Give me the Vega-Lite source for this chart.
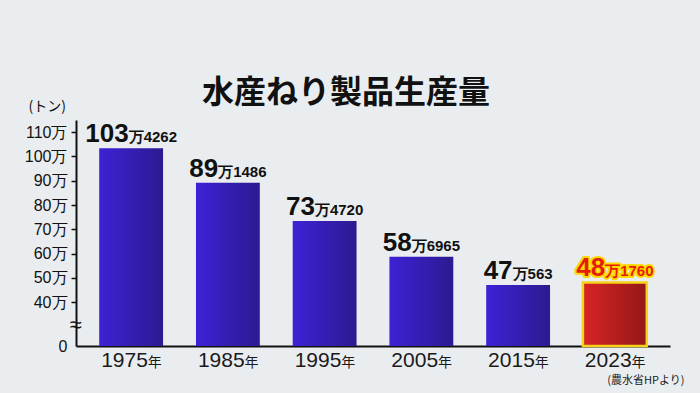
{
  "$schema": "https://vega.github.io/schema/vega-lite/v6.json",
  "width": 594,
  "height": 226,
  "autosize": {"type": "none"},
  "padding": {"left": 76, "top": 120, "right": 30, "bottom": 47},
  "background": "#eaedef",
  "config": {"view": {"stroke": null}, "font": "Liberation Sans", "axisY": {"labelOverlap": false}},
  "title": {"text": "水産ねり製品生産量", "font": "Noto Sans CJK JP", "fontSize": 32, "fontWeight": "bold", "color": "#111111", "anchor": "middle", "dx": -27, "offset": -11},
  "data": {"values": [
    {"year": "1975", "tons": 1034262},
    {"year": "1985", "tons": 891486},
    {"year": "1995", "tons": 734720},
    {"year": "2005", "tons": 586965},
    {"year": "2015", "tons": 470563},
    {"year": "2023", "tons": 481760}
  ]},
  "transform": [
    {"calculate": "floor(datum.tons/10000) + ''", "as": "big"},
    {"calculate": "'万' + (datum.tons % 10000)", "as": "small"}
  ],
  "encoding": {
    "x": {"field": "year", "type": "nominal", "sort": null,
      "scale": {"paddingInner": 0.34, "paddingOuter": 0.24},
      "axis": {"title": null, "labels": false, "ticks": false, "domainColor": "#111111", "domainWidth": 2}},
    "y": {"field": "tons", "type": "quantitative",
      "scale": {"domain": [220000, 1150000], "nice": false, "zero": false},
      "axis": {
        "values": [220000, 310000, 400000, 500000, 600000, 700000, 800000, 900000, 1000000, 1100000],
        "labelExpr": "datum.value == 220000 ? '0' : datum.value == 310000 ? '≈' : (datum.value / 10000) + '万'",
        "labelOverlap": false,
        "labelFontSize": {"condition": {"test": "datum.value == 310000", "value": 22}, "value": 16},
        "labelAlign": {"condition": {"test": "datum.value == 310000", "value": "center"}, "value": "right"},
        "labelPadding": {"condition": {"test": "datum.value == 310000", "value": -4}, "value": 4},
        "labelColor": "#111111",
        "labelFont": "Liberation Sans",
        "tickOpacity": {"condition": {"test": "datum.value == 310000 || datum.value == 220000", "value": 0}, "value": 1},
        "tickSize": 5, "tickColor": "#111111", "tickWidth": 1.5,
        "domainColor": "#111111", "domainWidth": 2,
        "grid": false,
        "title": "(トン)", "titleAngle": 0, "titleAlign": "left", "titleBaseline": "middle",
        "titleX": -48, "titleY": -14, "titleFont": "Noto Sans CJK JP", "titleFontSize": 14, "titleFontWeight": "normal", "titleColor": "#111111"
      }}
  },
  "layer": [
    {
      "transform": [{"filter": "datum.year != '2023'"}],
      "mark": {"type": "bar", "fill": {"gradient": "linear", "x1": 0, "x2": 1, "y1": 0, "y2": 0, "stops": [{"offset": 0, "color": "#3c22d6"}, {"offset": 1, "color": "#2b1a90"}]}},
      "encoding": {"y2": {"datum": 220000}}
    },
    {
      "transform": [{"filter": "datum.year == '2023'"}],
      "mark": {"type": "bar", "stroke": "#f7d21a", "strokeWidth": 2.5, "fill": {"gradient": "linear", "x1": 0, "x2": 1, "y1": 0, "y2": 0, "stops": [{"offset": 0, "color": "#d82424"}, {"offset": 1, "color": "#951818"}]}},
      "encoding": {"y2": {"datum": 220000}}
    },
    {
      "transform": [{"filter": "datum.year == '2023'"}],
      "mark": {"type": "text", "align": "left", "baseline": "alphabetic", "dy": -6, "font": "Liberation Sans", "fontSize": 26, "fontWeight": "bold", "stroke": "#ffd800", "strokeWidth": 4, "strokeJoin": "round", "fill": "#ffd800",
        "dx": {"expr": "-(length(datum.big)*14.46 + 15 + (length(datum.small)-1)*8.34)/2"}},
      "encoding": {"text": {"field": "big"}}
    },
    {
      "transform": [{"filter": "datum.year == '2023'"}],
      "mark": {"type": "text", "align": "left", "baseline": "alphabetic", "dy": -6, "font": "Liberation Sans", "fontSize": 15, "fontWeight": "bold", "stroke": "#ffd800", "strokeWidth": 4, "strokeJoin": "round", "fill": "#ffd800",
        "dx": {"expr": "-(length(datum.big)*14.46 + 15 + (length(datum.small)-1)*8.34)/2 + length(datum.big)*14.46"}},
      "encoding": {"text": {"field": "small"}}
    },
    {
      "mark": {"type": "text", "align": "left", "baseline": "alphabetic", "dy": -6, "font": "Liberation Sans", "fontSize": 26, "fontWeight": "bold",
        "dx": {"expr": "-(length(datum.big)*14.46 + 15 + (length(datum.small)-1)*8.34)/2"}},
      "encoding": {"text": {"field": "big"},
        "color": {"condition": {"test": "datum.year == '2023'", "value": "#e41e0a"}, "value": "#111111"}}
    },
    {
      "mark": {"type": "text", "align": "left", "baseline": "alphabetic", "dy": -6, "font": "Liberation Sans", "fontSize": 15, "fontWeight": "bold",
        "dx": {"expr": "-(length(datum.big)*14.46 + 15 + (length(datum.small)-1)*8.34)/2 + length(datum.big)*14.46"}},
      "encoding": {"text": {"field": "small"},
        "color": {"condition": {"test": "datum.year == '2023'", "value": "#e41e0a"}, "value": "#111111"}}
    },
    {
      "mark": {"type": "text", "align": "left", "baseline": "alphabetic", "dy": 21, "dx": -30, "font": "Liberation Sans", "fontSize": 21, "color": "#1a1a1a"},
      "encoding": {"y": {"datum": 220000, "type": "quantitative"}, "text": {"field": "year"}}
    },
    {
      "mark": {"type": "text", "align": "left", "baseline": "alphabetic", "dy": 21, "dx": 16.7, "font": "Noto Sans CJK JP", "fontSize": 14, "color": "#1a1a1a"},
      "encoding": {"y": {"datum": 220000, "type": "quantitative"}, "text": {"value": "年"}}
    },
    {
      "transform": [{"filter": "datum.year == '2023'"}],
      "mark": {"type": "text", "align": "center", "baseline": "alphabetic", "dy": 38, "dx": 31, "font": "Noto Sans CJK JP", "fontSize": 11, "color": "#1a1a1a"},
      "encoding": {"y": {"datum": 220000, "type": "quantitative"}, "text": {"value": "(農水省HPより)"}}
    }
  ]
}
